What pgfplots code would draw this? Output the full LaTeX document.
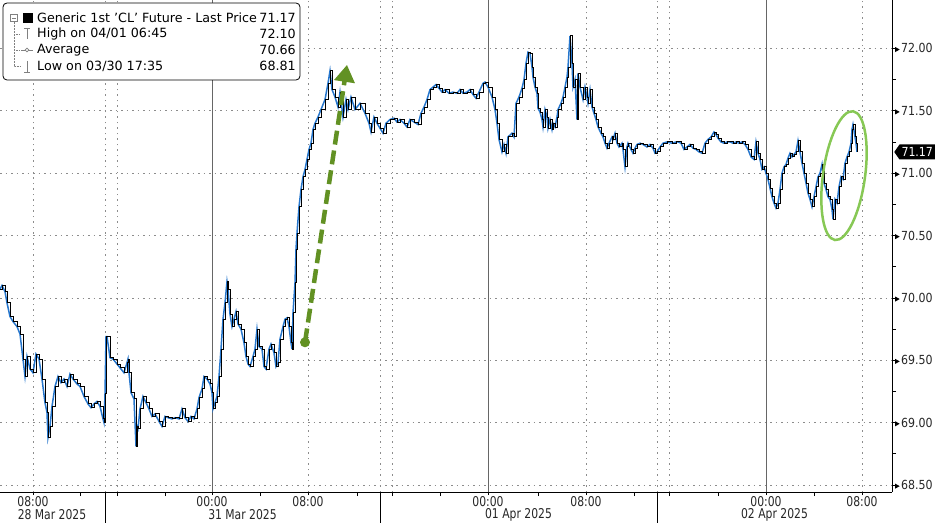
\documentclass[border=0pt]{standalone}
\usepackage{fontspec}
\setmainfont{DejaVu Sans}
\newfontfamily\condfont{DejaVu Sans}[FakeStretch=0.88]
\newfontfamily\narrowfont{DejaVu Sans}[FakeStretch=0.80]
\usepackage{pgfplots}
\usepackage{pgfplotstable}
\pgfplotsset{compat=1.18}
\usetikzlibrary{shapes.symbols,arrows.meta}
\definecolor{bblue}{RGB}{38,118,204}
\definecolor{arrowgreen}{RGB}{98,145,35}
\definecolor{ellgreen}{RGB}{135,200,85}
\definecolor{gridgray}{RGB}{140,140,140}

\pgfplotstableread{
x p
0 70.07
2 70.10
5 70.05
7 69.96
10 69.85
13 69.81
17 69.77
20 69.71
23 69.51
25 69.37
27 69.53
30 69.43
33 69.40
36 69.55
39 69.51
42 69.35
45 69.16
47 69.08
48 68.88
50 68.97
52 69.13
55 69.29
58 69.37
61 69.32
64 69.35
67 69.29
70 69.39
73 69.35
77 69.31
80 69.29
84 69.21
88 69.15
91 69.12
94 69.15
97 69.17
100 69.13
103 69.03
104 69.00
105 69.23
106 69.69
107 69.69
110 69.52
113 69.51
117 69.47
120 69.44
124 69.40
127 69.48
128 69.51
129 69.40
131 69.24
134 69.19
136 68.81
137 68.97
138 68.95
140 69.11
143 69.21
146 69.16
149 69.11
152 69.05
155 69.07
159 69.01
162 68.97
165 69.05
168 69.04
172 69.03
175 69.04
179 69.03
182 69.11
185 69.04
188 69.01
191 69.05
194 69.03
197 69.11
199 69.20
202 69.27
204 69.37
207 69.35
210 69.31
212 69.24
213 69.11
215 69.16
217 69.21
219 69.37
221 69.59
223 69.83
225 69.96
227 70.13
228 70.07
230 69.87
232 69.77
234 69.83
236 69.89
238 69.79
241 69.75
244 69.64
246 69.53
248 69.47
250 69.45
253 69.53
255 69.59
257 69.75
259 69.61
262 69.59
264 69.45
266 69.43
269 69.59
271 69.63
274 69.56
276 69.45
278 69.48
280 69.67
283 69.77
285 69.83
287 69.84
289 69.77
291 69.64
292 69.59
293 69.88
295 70.12
296 70.39
297 70.52
299 70.73
301 70.87
303 70.97
305 71.03
307 71.11
309 71.19
311 71.24
313 71.35
315 71.40
318 71.45
321 71.51
325 71.59
328 71.72
330 71.82
332 71.67
335 71.61
338 71.53
340 71.65
343 71.45
346 71.59
348 71.51
351 71.61
355 71.51
360 71.56
365 71.48
369 71.40
371 71.33
374 71.45
377 71.40
380 71.36
383 71.32
386 71.40
390 71.43
394 71.44
397 71.41
400 71.43
404 71.40
407 71.37
410 71.43
414 71.41
418 71.39
421 71.48
424 71.53
427 71.59
430 71.67
433 71.69
436 71.71
439 71.68
442 71.65
445 71.67
449 71.64
453 71.65
457 71.64
460 71.67
463 71.64
467 71.65
470 71.67
473 71.63
476 71.60
479 71.65
483 71.72
485 71.73
488 71.69
492 71.61
495 71.51
497 71.40
499 71.27
502 71.17
504 71.23
506 71.16
508 71.29
512 71.32
514 71.29
516 71.56
519 71.61
522 71.68
524 71.75
526 71.88
528 71.97
530 71.96
532 71.85
533 71.77
535 71.69
537 71.64
538 71.52
540 71.49
542 71.43
543 71.37
545 71.51
547 71.45
548 71.36
550 71.43
552 71.35
553 71.40
555 71.37
557 71.45
558 71.51
561 71.56
563 71.61
565 71.69
567 71.77
568 71.85
570 72.10
572 71.88
573 71.69
575 71.75
577 71.43
578 71.80
580 71.69
583 71.59
585 71.69
587 71.61
588 71.56
590 71.67
592 71.53
594 71.48
596 71.43
598 71.37
601 71.32
603 71.29
605 71.24
607 71.20
609 71.24
612 71.29
613 71.27
615 71.32
617 71.24
619 71.21
622 71.24
623 71.19
625 71.05
627 71.21
628 71.24
631 71.19
633 71.16
635 71.20
637 71.23
640 71.24
643 71.23
647 71.21
650 71.23
653 71.20
655 71.16
657 71.17
660 71.21
663 71.24
667 71.25
672 71.24
676 71.25
678 71.25
681 71.24
684 71.19
687 71.21
690 71.23
693 71.20
696 71.19
699 71.17
702 71.16
705 71.24
708 71.27
711 71.29
714 71.33
716 71.31
718 71.28
721 71.25
724 71.24
727 71.25
730 71.25
733 71.24
736 71.25
739 71.24
742 71.25
745 71.23
748 71.19
751 71.13
754 71.11
756 71.25
758 71.16
760 71.11
762 71.03
764 71.05
766 71.00
768 70.95
770 70.88
772 70.81
774 70.76
776 70.72
778 70.76
780 70.87
782 71.00
784 71.05
786 71.07
788 71.12
790 71.16
792 71.13
794 71.15
796 71.17
798 71.26
800 71.17
802 71.08
804 71.00
806 70.92
808 70.84
810 70.79
812 70.73
814 70.81
816 70.89
818 70.97
820 71.00
822 71.07
824 70.92
826 70.87
828 70.81
830 70.79
832 70.71
833 70.63
835 70.79
837 70.76
839 70.89
841 70.97
843 70.95
845 71.08
847 71.13
849 71.17
851 71.24
852 71.35
853 71.39
855 71.29
856 71.24
857 71.17
}\pricedata

\begin{document}
\begin{tikzpicture}
\useasboundingbox (0pt,-31pt) rectangle (937pt,492pt);
\begin{axis}[
  at={(0pt,0pt)}, anchor=south west,
  scale only axis, width=892pt, height=492pt,
  xmin=0, xmax=892, ymin=68.444, ymax=72.388,
  axis x line*=bottom, axis y line*=right,
  axis line style={black, line width=0.8pt},
  tick align=outside, major tick length=3pt, minor tick length=4pt,
  tick style={black, line width=0.7pt},
  xtick={33,212,308,488,586,766,862},
  xticklabels={08:00,00:00,08:00,00:00,08:00,00:00,08:00},
  minor xtick={80,117,165,260,357,392,440,538,634,669,718,814},
  xticklabel style={font=\narrowfont\fontsize{13.5}{14}\selectfont, text=black!85, inner sep=1pt},
  ytick={68.5,69,69.5,70,70.5,71,71.5,72},
  minor ytick={68.75,69.25,69.75,70.25,70.75,71.25,71.75},
  yticklabel pos=right,
  yticklabel={\tikz[baseline=-0.5ex]\fill[black] (0pt,-2.5pt)--(4.5pt,0pt)--(0pt,2.5pt)--cycle;\hspace{1.5pt}\pgfmathprintnumber[fixed,fixed zerofill,precision=2,assume math mode=true]{\tick}},
  yticklabel style={font=\condfont\fontsize{12.5}{13}\selectfont, text=black!85, anchor=west, inner sep=0pt},
  ymajorgrids=true,
  major grid style={gridgray, dash pattern=on 1.5pt off 4pt, line width=0.6pt},
  clip mode=individual,
]
\pgfplotsinvokeforeach{33,105,117,308,380,392,586,657,669,862}{
  \draw[gridgray, dash pattern=on 1.5pt off 4pt, line width=0.6pt] (axis cs:#1,68.444) -- (axis cs:#1,72.388);}
\pgfplotsinvokeforeach{212,488,766}{
  \draw[black!60, line width=0.7pt] (axis cs:#1,68.444) -- (axis cs:#1,72.388);}
\addplot[bblue, line width=1.5pt] table[x=x,y=p] {\pricedata};
\addplot[black, line width=0.95pt, const plot] table[x=x,y=p] {\pricedata};
% annotations
\draw[arrowgreen, line width=4.5pt, dash pattern=on 14pt off 6pt, -{Triangle[width=20pt,length=17pt]}] (axis cs:305,69.644) -- (axis cs:347,71.868);
\fill[arrowgreen] (axis cs:305,69.644) circle[radius=5pt];
\draw[ellgreen, line width=2.5pt] (axis cs:844,70.98) ellipse[x radius=21pt, y radius=65pt, rotate=-8];
\end{axis}
% last price tag
\node[signal, signal to=west, signal pointer angle=110, fill=black, text=white, font=\condfont\fontsize{12.5}{13}\selectfont, inner xsep=2pt, inner ysep=2pt, minimum height=15pt, anchor=west] at (894pt,340pt) {71.17};
% bottom date labels and separators
\foreach \xx in {105,380,657} {\draw[black, line width=0.8pt] (\xx pt,0pt) -- (\xx pt,-31pt);}
\foreach \xx/\lab in {52/28 Mar 2025, 242.5/31 Mar 2025, 518.5/01 Apr 2025, 774.5/02 Apr 2025}{
  \node[font=\narrowfont\fontsize{13.5}{14}\selectfont, text=black!85, inner sep=0pt] at (\xx pt,-23pt) {\lab};}
% legend box
\draw[black, line width=0.8pt, fill=white, rounded corners=4pt] (3pt,489pt) rectangle (300pt,412pt);
\begin{scope}[font=\fontsize{12.7}{14}\selectfont]
\draw[gray, line width=0.5pt] (10.5pt,470.5pt) rectangle (17.5pt,477.5pt);
\draw[gray, line width=0.5pt] (12pt,474pt) -- (16pt,474pt);
\fill[black] (23pt,469pt) rectangle (33pt,479pt);
\draw[gray, densely dotted, line width=0.5pt] (14pt,470pt) -- (14pt,426pt) -- (20pt,426pt);
\draw[gray, densely dotted, line width=0.5pt] (14pt,458pt) -- (20pt,458pt);
\draw[gray, densely dotted, line width=0.5pt] (14pt,442pt) -- (20pt,442pt);
\draw[gray, line width=0.7pt] (24pt,464pt) -- (30pt,464pt) (27pt,464pt) -- (27pt,453pt);
\draw[gray, line width=0.7pt] (21pt,442pt) -- (33pt,442pt);
\draw[gray, line width=0.7pt, fill=white] (27pt,442pt) circle[radius=1.8pt];
\draw[gray, line width=0.7pt] (27pt,431pt) -- (27pt,420pt) (24pt,420pt) -- (30pt,420pt);
\node[anchor=west, inner sep=0pt] at (37pt,474pt) {Generic 1st 'CL' Future - Last Price};
\node[anchor=west, inner sep=0pt] at (37pt,458pt) {High on 04/01 06:45};
\node[anchor=west, inner sep=0pt] at (37pt,442pt) {Average};
\node[anchor=west, inner sep=0pt] at (37pt,426pt) {Low on 03/30 17:35};
\node[anchor=east, inner sep=0pt] at (296pt,474pt) {71.17};
\node[anchor=east, inner sep=0pt] at (296pt,458pt) {72.10};
\node[anchor=east, inner sep=0pt] at (296pt,442pt) {70.66};
\node[anchor=east, inner sep=0pt] at (296pt,426pt) {68.81};
\end{scope}
\end{tikzpicture}
\end{document}
